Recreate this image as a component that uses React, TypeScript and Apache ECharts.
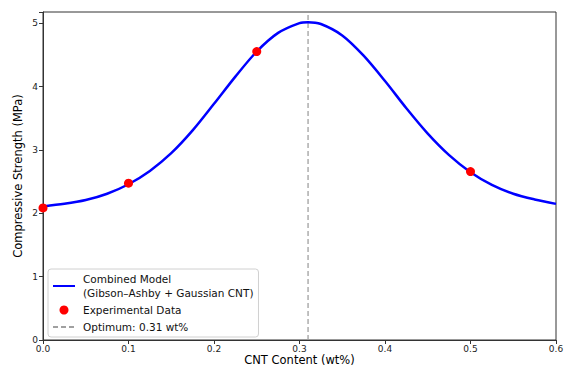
import React, { useEffect, useRef } from "react";
import * as echarts from "echarts";

// Model curve (CNT wt%, MPa)
const curveX = [0, 0.025, 0.05, 0.075, 0.1, 0.125, 0.15, 0.175, 0.2, 0.225, 0.25, 0.275, 0.3, 0.31, 0.325, 0.35, 0.375, 0.4, 0.425, 0.45, 0.475, 0.5, 0.525, 0.55, 0.575, 0.6];
const curveY = [2.11, 2.15, 2.21, 2.31, 2.46, 2.67, 2.95, 3.31, 3.73, 4.16, 4.556, 4.85, 5.005, 5.02, 4.99, 4.81, 4.49, 4.09, 3.66, 3.26, 2.92, 2.65, 2.45, 2.31, 2.22, 2.15];

// Experimental points
const expX = [0, 0.1, 0.25, 0.5];
const expY = [2.085, 2.476, 4.555, 2.66];

const optimumX = 0.31;
const xTicks = [0, 0.1, 0.2, 0.3, 0.4, 0.5, 0.6];
const yTicks = [0, 1, 2, 3, 4, 5];
const yMax = 5.18;

const modelName = "Combined Model\n(Gibson–Ashby + Gaussian CNT)";
const expName = "Experimental Data";
const optName = "Optimum: 0.31 wt%";

export default function App() {
  const ref = useRef<HTMLDivElement>(null);
  useEffect(() => {
    if (!ref.current) return;
    const chart = echarts.init(ref.current, null, { renderer: "svg" });
    const font = "DejaVu Sans";
    chart.setOption({
      animation: false,
      textStyle: { fontFamily: font },
      grid: {
        left: 43,
        right: 8,
        top: 12,
        bottom: 29,
        outerBoundsMode: "none",
        containLabel: false,
        show: true,
        borderColor: "#333",
        borderWidth: 1,
        backgroundColor: "transparent",
      },
      xAxis: {
        type: "value",
        min: xTicks[0],
        max: xTicks[xTicks.length - 1],
        interval: 0.1,
        name: "CNT Content (wt%)",
        nameLocation: "middle",
        nameGap: 14,
        nameMoveOverlap: false,
        nameTextStyle: { fontSize: 11.5, color: "#000", fontFamily: font },
        axisLine: { show: true, lineStyle: { color: "#333", width: 1 } },
        axisTick: { show: true, inside: false, length: 4, lineStyle: { color: "#333" } },
        axisLabel: {
          fontSize: 9,
          color: "#222",
          margin: 4,
          fontFamily: font,
          formatter: (v: number) => v.toFixed(1),
        },
        splitLine: { show: false },
      },
      yAxis: {
        type: "value",
        min: yTicks[0],
        max: yMax,
        interval: 1,
        name: "Compressive Strength (MPa)",
        nameLocation: "middle",
        nameGap: 19,
        nameMoveOverlap: false,
        nameTextStyle: { fontSize: 11.5, color: "#000", fontFamily: font },
        axisLine: { show: true, lineStyle: { color: "#333", width: 1 } },
        axisTick: { show: true, inside: false, length: 4, lineStyle: { color: "#333" } },
        axisLabel: {
          fontSize: 9,
          color: "#222",
          margin: 5,
          fontFamily: font,
          formatter: (v: number) => (yTicks.includes(v) ? String(v) : ""),
        },
        splitLine: { show: false },
      },
      legend: {
        orient: "vertical",
        left: 48,
        top: 269,
        padding: [3, 5, 3, 4],
        itemGap: 3,
        itemWidth: 22,
        itemHeight: 9,
        backgroundColor: "rgba(255,255,255,0.85)",
        borderColor: "#d0d0d0",
        borderWidth: 1,
        borderRadius: 3,
        textStyle: {
          fontSize: 10.5,
          lineHeight: 14,
          color: "#111",
          fontFamily: font,
          padding: [0, 0, 0, 3],
        },
        data: [
          { name: modelName, itemStyle: { opacity: 0 } },
          { name: expName },
          { name: optName, itemStyle: { opacity: 0 } },
        ],
      },
      series: [
        {
          name: modelName,
          type: "line",
          data: curveX.map((x, i) => [x, curveY[i]]),
          smooth: 0.3,
          symbol: "none",
          lineStyle: { color: "#0000ff", width: 2.5 },
          itemStyle: { color: "#0000ff" },
          z: 3,
        },
        {
          name: expName,
          type: "scatter",
          data: expX.map((x, i) => [x, expY[i]]),
          symbolSize: 9,
          itemStyle: { color: "#ff0000", opacity: 1 },
          z: 5,
        },
        {
          name: optName,
          type: "line",
          data: [
            [optimumX, 0],
            [optimumX, yMax],
          ],
          symbol: "none",
          lineStyle: { color: "#a0a0a0", width: 1.3, type: [5, 3] },
          itemStyle: { color: "#a0a0a0" },
          z: 2,
        },
      ],
    });
    return () => chart.dispose();
  }, []);
  return (
    <div
      ref={ref}
      style={{ position: "fixed", left: 0, top: 0, width: 564, height: 369, background: "#fff" }}
    />
  );
}
